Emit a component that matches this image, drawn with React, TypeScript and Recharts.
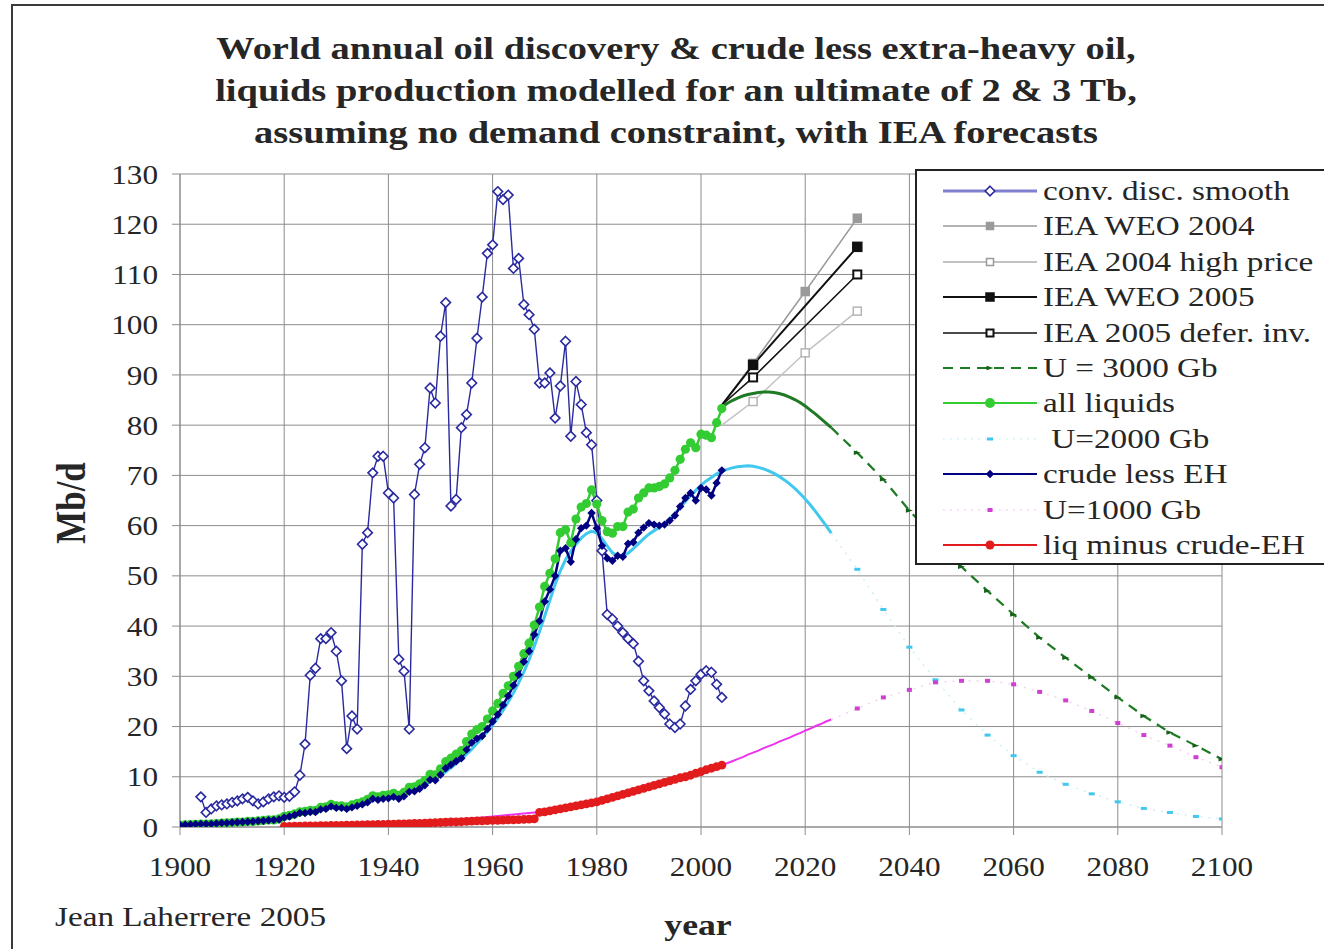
import React from 'react';
import { ComposedChart, Line, XAxis, YAxis, CartesianGrid } from 'recharts';

const W = 1324;
const H = 949;
const FONT = '"Liberation Serif", "Times New Roman", serif';
// the whole figure uses slightly widened lettering
const WIDEN = 1.23;

// ---- axis ticks ----
const xTicks = [1900, 1920, 1940, 1960, 1980, 2000, 2020, 2040, 2060, 2080, 2100];
const yTicks = [0, 10, 20, 30, 40, 50, 60, 70, 80, 90, 100, 110, 120, 130];

// ---- conventional discovery, smoothed (Mb/d), yearly from 1904 ----
const DISC_START = 1904;
const discovery = [
  6, 2.9, 3.6, 4.2, 4.4, 4.6, 4.9, 5.2, 5.6, 5.9, 5.2, 4.6, 5, 5.6, 6, 6.2, 5.9, 6.1,
  7, 10.3, 16.5, 30.2, 31.6, 37.5, 37.5, 38.7, 35, 29.1, 15.6, 22.1, 19.5,
  56.3, 58.6, 70.5, 73.8, 73.8, 66.5, 65.5, 33.4, 31, 19.5,
  66.2, 72.2, 75.5, 87.4, 84.4, 97.7, 104.4, 63.9, 65.2,
  79.5, 82.1, 88.4, 97.3, 105.5, 114.2, 115.9, 126.5, 124.9, 125.8,
  111.2, 113.2, 104, 102, 99.1, 88.4, 88.4, 90.4, 81.4, 87.8,
  96.7, 77.8, 88.7, 84.1, 78.5, 76.1, 65, 55,
  42.3, 41.4, 40, 38.7, 37.5, 36.5, 33, 29.1, 27.1, 25.1, 23.8, 22.5, 20.5, 19.8, 20.5,
  24.1, 27.4, 29.1, 30.4, 31.1, 30.8, 28.4, 25.8,
];

// ---- production, yearly from 1900 ----
const PROD_START = 1900;
const crudeLessEH = [
  0.4, 0.45, 0.5, 0.55, 0.6, 0.6, 0.6, 0.7, 0.8, 0.8,
  0.9, 0.95, 1.0, 1.05, 1.1, 1.2, 1.25, 1.35, 1.4, 1.5,
  1.9, 2.1, 2.4, 2.8, 2.8, 3.0, 3.0, 3.5, 3.6, 4.1,
  3.8, 3.8, 3.6, 3.9, 4.2, 4.5, 4.9, 5.6, 5.4, 5.6,
  5.7, 6.0, 5.6, 6.1, 7.0, 7.1, 7.6, 8.3, 9.4, 9.3,
  10.4, 11.7, 12.4, 13.1, 13.7, 15.4, 16.8, 17.6, 18.1, 19.5,
  21.0, 22.4, 24.3, 26.1, 28.2, 30.3, 32.9, 35.0, 38.3, 41.0,
  44.9, 47.3, 50.0, 55.0, 55.5, 52.8, 57.3, 59.5, 60.0, 62.5,
  59.5, 56.0, 53.5, 53.0, 54.0, 53.8, 56.4, 56.7, 58.6, 59.6,
  60.5, 60.2, 60.0, 60.2, 61.0, 62.0, 63.8, 65.5, 66.5, 65.0,
  67.5, 67.2, 66.0, 68.5, 71.0,
];
const allLiquids = [
  0.4, 0.45, 0.5, 0.55, 0.6, 0.6, 0.65, 0.7, 0.8, 0.85,
  0.9, 1.0, 1.0, 1.1, 1.1, 1.2, 1.3, 1.4, 1.4, 1.6,
  2.1, 2.3, 2.6, 3.0, 3.1, 3.3, 3.3, 3.9, 4.0, 4.5,
  4.2, 4.2, 4.0, 4.4, 4.7, 5.0, 5.5, 6.2, 6.0, 6.3,
  6.4, 6.7, 6.3, 6.9, 7.9, 8.0, 8.6, 9.3, 10.5, 10.4,
  11.6, 13.0, 13.7, 14.5, 15.2, 17.0, 18.5, 19.4, 20.0, 21.5,
  23.1, 24.6, 26.6, 28.1, 30.0, 32.0, 34.5, 36.6, 40.2, 43.8,
  47.9, 50.5, 53.4, 58.6, 59.2, 56.6, 61.3, 63.7, 64.4, 67.1,
  64.3, 61.0, 58.8, 58.5, 59.8, 59.8, 62.7, 63.3, 65.5, 66.5,
  67.5, 67.5, 67.8, 68.3, 69.5, 71.0, 73.2, 75.2, 76.5, 75.5,
  78.2, 78.0, 77.5, 80.5, 83.3,
];
const LIQ_START = 1920;
const liqMinusCrudeEH = [
  0.1, 0.1, 0.15, 0.15, 0.2, 0.2, 0.2, 0.25, 0.25, 0.3,
  0.3, 0.3, 0.35, 0.35, 0.4, 0.4, 0.45, 0.45, 0.5, 0.5,
  0.55, 0.55, 0.6, 0.6, 0.65, 0.7, 0.7, 0.75, 0.8, 0.85,
  0.9, 0.95, 1.0, 1.0, 1.05, 1.1, 1.15, 1.2, 1.2, 1.25,
  1.3, 1.3, 1.35, 1.4, 1.4, 1.45, 1.5, 1.55, 1.6, 2.9,
  3.0, 3.2, 3.4, 3.6, 3.8, 4.0, 4.2, 4.4, 4.6, 4.8,
  5.0, 5.3, 5.6, 5.9, 6.2, 6.5, 6.8, 7.1, 7.4, 7.7,
  8.0, 8.3, 8.6, 8.9, 9.2, 9.5, 9.8, 10.0, 10.3, 10.7,
  11.0, 11.4, 11.7, 12.0, 12.3,
];

// ---- models: yearly part, then every five years ----
const FIVE_YEARS = [2030, 2035, 2040, 2045, 2050, 2055, 2060, 2065, 2070, 2075, 2080, 2085, 2090, 2095, 2100];

const U3000_START = 2004;
const u3000Yearly = [
  83.6, 84.3, 84.9, 85.4, 85.8, 86.1, 86.3, 86.5, 86.6, 86.6,
  86.5, 86.3, 86.0, 85.6, 85.1, 84.5, 83.8, 83.0, 82.2, 81.3,
  80.4, 79.5,
];
const u3000Late = [74.5, 69.2, 63.0, 57.5, 51.8, 47.0, 42.3, 37.7, 33.7, 29.8, 25.8, 22.1, 18.8, 16.2, 13.5];

const U2000_START = 1940;
const u2000Yearly = [
  5.5, 5.8, 6.1, 6.5, 6.9, 7.3, 7.8, 8.4, 9.0, 9.6,
  10.3, 11.0, 11.8, 12.6, 13.5, 14.5, 15.5, 16.6, 17.8, 19.0,
  20.3, 21.7, 23.2, 24.9, 26.7, 28.7, 30.9, 33.3, 36.0, 38.9,
  42.0, 45.2, 48.3, 51.0, 53.2, 54.9, 56.3, 57.5, 58.4, 58.9,
  58.5, 57.4, 55.9, 54.6, 54.0, 54.0, 54.5, 55.4, 56.4, 57.4,
  58.3, 59.0, 59.6, 60.4, 61.3, 62.4, 63.6, 64.8, 66.0, 67.0,
  68.0, 68.9, 69.6, 70.3, 70.8, 71.2, 71.5, 71.7, 71.8, 71.9,
  71.8, 71.6, 71.3, 70.9, 70.4, 69.8, 69.1, 68.3, 67.4, 66.4,
  65.3, 64.1, 62.8, 61.4, 60.0, 58.5,
];
const u2000Late = [51.3, 43.3, 35.8, 29.3, 23.3, 18.3, 14.2, 10.9, 8.5, 6.6, 5.0, 3.7, 2.9, 2.1, 1.6];

const U1000_START = 1955;
const u1000Yearly = [
  1.6, 1.7, 1.8, 1.9, 2.0,
  2.1, 2.2, 2.3, 2.4, 2.5, 2.6, 2.7, 2.8, 2.9, 3.0,
  3.1, 3.3, 3.5, 3.7, 3.9, 4.1, 4.3, 4.5, 4.7, 4.9,
  5.1, 5.4, 5.7, 6.0, 6.3, 6.6, 6.9, 7.2, 7.5, 7.8,
  8.1, 8.4, 8.7, 9.0, 9.3, 9.6, 9.9, 10.2, 10.5, 10.8,
  11.1, 11.4, 11.7, 12.0, 12.3, 12.7, 13.1, 13.5, 13.9, 14.4,
  14.8, 15.2, 15.7, 16.1, 16.5, 17.0, 17.4, 17.8, 18.3, 18.7,
  19.2, 19.6, 20.1, 20.5, 21.0, 21.4,
];
const u1000Late = [23.6, 25.8, 27.3, 28.8, 29.1, 29.1, 28.4, 26.9, 25.2, 23.1, 20.7, 18.3, 16.2, 13.9, 11.9];

// ---- IEA forecasts ----
const IEA04_YEARS = [2004, 2010, 2020, 2030];
const ieaWeo2004 = [84, 92.3, 106.6, 121.2];
const iea2004HighPrice = [80, 84.7, 94.4, 102.7];
const IEA05_YEARS = [2004, 2010, 2030];
const ieaWeo2005 = [84, 92, 115.5];
const iea2005DeferInv = [84, 89.5, 110];

type Pt = { x: number; y: number };
const byYear = (start: number, values: number[]): Pt[] => values.map((y, i) => ({ x: start + i, y }));
const zipXY = (xs: number[], ys: number[]): Pt[] => xs.map((x, i) => ({ x, y: ys[i] }));
// five-year tail joined to the last yearly point
const tail = (start: number, yearly: number[], late: number[]): Pt[] =>
  zipXY([start + yearly.length - 1, ...FIVE_YEARS], [yearly[yearly.length - 1], ...late]);

const discData = byYear(DISC_START, discovery);
const crudeData = byYear(PROD_START, crudeLessEH);
const liquidsData = byYear(PROD_START, allLiquids);
const otherLiqData = byYear(LIQ_START, liqMinusCrudeEH);
const u3000A = byYear(U3000_START, u3000Yearly);
const u3000B = tail(U3000_START, u3000Yearly, u3000Late);
const u2000A = byYear(U2000_START, u2000Yearly);
const u2000B = tail(U2000_START, u2000Yearly, u2000Late);
const u1000A = byYear(U1000_START, u1000Yearly);
const u1000B = tail(U1000_START, u1000Yearly, u1000Late);
const weo04Data = zipXY(IEA04_YEARS, ieaWeo2004);
const high04Data = zipXY(IEA04_YEARS, iea2004HighPrice);
const weo05Data = zipXY(IEA05_YEARS, ieaWeo2005);
const defer05Data = zipXY(IEA05_YEARS, iea2005DeferInv);

// ---- colours ----
const C = {
  disc: '#2a2aa0',
  weo04: '#9a9a9a',
  high04: '#c2c2c2',
  black: '#111111',
  u3000: '#1f7a24',
  liquids: '#33cc33',
  u2000: '#40c8ee',
  crude: '#000080',
  u1000: '#ee33ee',
  red: '#e21c1c',
  grid: '#8c8c8c',
  text: '#262626',
};

// ---- marker shapes ----
type Draw = (cx: number, cy: number) => React.ReactElement;
const diamondPath = (cx: number, cy: number, r: number) =>
  `M${cx},${cy - r}L${cx + r},${cy}L${cx},${cy + r}L${cx - r},${cy}Z`;

const mOpenDiamond: Draw = (cx, cy) => (
  <path d={diamondPath(cx, cy, 4.8)} fill="#fff" stroke={C.disc} strokeWidth={1.6} />
);
const mNavyDiamond: Draw = (cx, cy) => <path d={diamondPath(cx, cy, 4.2)} fill={C.crude} />;
const mGreen: Draw = (cx, cy) => <circle cx={cx} cy={cy} r={4.6} fill={C.liquids} />;
const mRed: Draw = (cx, cy) => <circle cx={cx} cy={cy} r={4.4} fill={C.red} />;
const mSquare = (s: number, fill: string, stroke: string, sw = 1.5): Draw => (cx, cy) => (
  <rect x={cx - s / 2} y={cy - s / 2} width={s} height={s} fill={fill} stroke={stroke} strokeWidth={sw} />
);
const mCyan: Draw = (cx, cy) => <rect x={cx - 3} y={cy - 1.5} width={6} height={3} fill={C.u2000} />;
const mMagenta: Draw = (cx, cy) => <rect x={cx - 2.5} y={cy - 2} width={5} height={4} fill="#d040d0" />;
const mArrow: Draw = (cx, cy) => (
  <path d={`M${cx - 3.5},${cy - 2.2}L${cx + 3.5},${cy}L${cx - 3.5},${cy + 2.2}Z`} fill="#17601a" />
);

const dots = (id: string, draw: Draw, skipFirst = false) => (p: any) => {
  const { cx, cy, index } = p;
  if (cx == null || cy == null || (skipFirst && index === 0)) return <g key={`${id}-${index}`} />;
  return <g key={`${id}-${index}`}>{draw(cx, cy)}</g>;
};

// ---- axis tick labels ----
const XTick = (p: any) => (
  <text
    transform={`translate(${p.x},${p.y}) scale(${WIDEN * 0.94},1)`}
    textAnchor="middle"
    dy="0.71em"
    fontSize={27}
    fontFamily={FONT}
    fill={C.text}
  >
    {p.payload.value}
  </text>
);
const YTick = (p: any) => (
  <text
    transform={`translate(${p.x},${p.y}) scale(${WIDEN * 0.94},1)`}
    textAnchor="end"
    dy="0.355em"
    fontSize={27}
    fontFamily={FONT}
    fill={C.text}
  >
    {p.payload.value}
  </text>
);

// ---- legend ----
type LegendItem = {
  label: string;
  stroke: string;
  width: number;
  dash?: string;
  mark?: Draw;
};
const legendItems: LegendItem[] = [
  { label: 'conv. disc. smooth', stroke: '#8080d0', width: 3, mark: mOpenDiamond },
  { label: 'IEA WEO 2004', stroke: C.weo04, width: 1.5, mark: mSquare(7, C.weo04, C.weo04) },
  { label: 'IEA 2004 high price', stroke: C.high04, width: 2, mark: mSquare(7, '#fff', '#9a9a9a') },
  { label: 'IEA WEO 2005', stroke: C.black, width: 2, mark: mSquare(8, C.black, C.black) },
  { label: 'IEA 2005 defer. inv.', stroke: C.black, width: 1.5, mark: mSquare(7, '#fff', C.black, 2) },
  { label: 'U = 3000 Gb', stroke: C.u3000, width: 2, dash: '10 7', mark: mArrow },
  { label: 'all liquids', stroke: C.liquids, width: 2, mark: (cx, cy) => <circle cx={cx} cy={cy} r={5} fill={C.liquids} /> },
  { label: ' U=2000 Gb', stroke: '#d8f2fa', width: 1.5, dash: '2 5', mark: mCyan },
  { label: 'crude less EH', stroke: C.crude, width: 2, mark: mNavyDiamond },
  { label: 'U=1000 Gb', stroke: '#f6d8f6', width: 1.5, dash: '2 5', mark: mMagenta },
  { label: 'liq minus crude-EH', stroke: C.red, width: 2, mark: (cx, cy) => <circle cx={cx} cy={cy} r={4.5} fill={C.red} /> },
];

const LegendBox = () => (
  <div
    style={{
      position: 'absolute',
      left: 915,
      top: 169,
      width: 440,
      height: 396,
      border: '2px solid #222',
      background: '#fff',
      boxSizing: 'border-box',
      paddingTop: 2,
    }}
  >
    {legendItems.map((it) => (
      <div key={it.label} style={{ height: 35.4, position: 'relative' }}>
        <svg width={100} height={36} style={{ position: 'absolute', left: 24, top: 0 }}>
          <line x1={2} y1={18} x2={96} y2={18} stroke={it.stroke} strokeWidth={it.width} strokeDasharray={it.dash} />
          {it.mark ? it.mark(49, 18) : null}
        </svg>
        <div
          style={{
            position: 'absolute',
            left: 126,
            top: 0,
            lineHeight: '36px',
            fontSize: 27,
            fontFamily: FONT,
            color: C.text,
            whiteSpace: 'pre',
            transform: `scaleX(${WIDEN})`,
            transformOrigin: 'left center',
          }}
        >
          {it.label}
        </div>
      </div>
    ))}
  </div>
);

const titleLines = [
  'World annual oil discovery & crude less extra-heavy oil,',
  'liquids production modelled for an ultimate of 2 & 3 Tb,',
  'assuming no demand constraint, with IEA forecasts',
];

export default function App() {
  return (
    <div
      style={{
        position: 'absolute',
        left: 0,
        top: 0,
        width: W,
        height: H,
        overflow: 'hidden',
        background: '#fff',
        fontFamily: FONT,
      }}
    >
      <div
        style={{
          position: 'absolute',
          left: 11,
          top: 4,
          width: W + 60,
          height: H + 60,
          border: '2px solid #3a3a3a',
          boxSizing: 'border-box',
        }}
      />
      <div style={{ position: 'absolute', left: 0, top: 0 }}>
        <ComposedChart width={W} height={H} margin={{ top: 174, right: 102, bottom: 0, left: 0 }}>
          <CartesianGrid stroke={C.grid} strokeWidth={1} />
          <XAxis
            type="number"
            dataKey="x"
            domain={[1900, 2100]}
            ticks={xTicks}
            allowDataOverflow
            height={122}
            tickSize={8}
            tickMargin={22}
            stroke={C.grid}
            tick={<XTick />}
          />
          <YAxis
            type="number"
            dataKey="y"
            domain={[0, 130]}
            ticks={yTicks}
            allowDataOverflow
            width={180}
            tickSize={8}
            tickMargin={14}
            stroke={C.grid}
            tick={<YTick />}
          />

          <Line data={discData} dataKey="y" stroke={C.disc} strokeWidth={1.4} dot={dots('disc', mOpenDiamond)} activeDot={false} isAnimationActive={false} />

          <Line data={weo04Data} dataKey="y" stroke={C.weo04} strokeWidth={1.5} dot={dots('w04', mSquare(8, C.weo04, C.weo04), true)} activeDot={false} isAnimationActive={false} />
          <Line data={high04Data} dataKey="y" stroke={C.high04} strokeWidth={1.5} dot={dots('h04', mSquare(8, '#fff', '#b5b5b5'), true)} activeDot={false} isAnimationActive={false} />
          <Line data={weo05Data} dataKey="y" stroke={C.black} strokeWidth={2} dot={dots('w05', mSquare(9, C.black, C.black), true)} activeDot={false} isAnimationActive={false} />
          <Line data={defer05Data} dataKey="y" stroke={C.black} strokeWidth={1.5} dot={dots('d05', mSquare(8, '#fff', C.black, 2), true)} activeDot={false} isAnimationActive={false} />

          <Line data={u3000A} dataKey="y" stroke={C.u3000} strokeWidth={3} dot={false} activeDot={false} isAnimationActive={false} />
          <Line data={u3000B} dataKey="y" stroke={C.u3000} strokeWidth={2.2} strokeDasharray="10 7" dot={dots('u3', mArrow, true)} activeDot={false} isAnimationActive={false} />

          <Line data={liquidsData} dataKey="y" stroke={C.liquids} strokeWidth={2.5} dot={dots('liq', mGreen)} activeDot={false} isAnimationActive={false} />

          <Line data={u2000A} dataKey="y" stroke={C.u2000} strokeWidth={3} dot={false} activeDot={false} isAnimationActive={false} />
          <Line data={u2000B} dataKey="y" stroke="#cdeff9" strokeWidth={1.5} strokeDasharray="2 6" dot={dots('u2', mCyan, true)} activeDot={false} isAnimationActive={false} />

          <Line data={crudeData} dataKey="y" stroke={C.crude} strokeWidth={2.5} dot={dots('crude', mNavyDiamond)} activeDot={false} isAnimationActive={false} />

          <Line data={u1000A} dataKey="y" stroke={C.u1000} strokeWidth={2} dot={false} activeDot={false} isAnimationActive={false} />
          <Line data={u1000B} dataKey="y" stroke="#f4d2f4" strokeWidth={1.5} strokeDasharray="2 6" dot={dots('u1', mMagenta, true)} activeDot={false} isAnimationActive={false} />

          <Line data={otherLiqData} dataKey="y" stroke={C.red} strokeWidth={2.5} dot={dots('red', mRed)} activeDot={false} isAnimationActive={false} />
        </ComposedChart>
      </div>

      <LegendBox />

      <div
        style={{
          position: 'absolute',
          left: 176,
          top: 28,
          width: 1000,
          textAlign: 'center',
          fontWeight: 'bold',
          fontSize: 31,
          lineHeight: '42px',
          color: C.text,
          transform: `scaleX(${WIDEN + 0.01})`,
          transformOrigin: 'center top',
        }}
      >
        {titleLines.map((t) => (
          <div key={t} style={{ whiteSpace: 'nowrap' }}>{t}</div>
        ))}
      </div>

      <div
        style={{
          position: 'absolute',
          left: 71,
          top: 503,
          transform: `translate(-50%, -50%) scaleX(${WIDEN}) rotate(-90deg)`,
          fontWeight: 'bold',
          fontSize: 35,
          color: C.text,
          whiteSpace: 'nowrap',
        }}
      >
        Mb/d
      </div>
      <div
        style={{
          position: 'absolute',
          left: 698,
          top: 925,
          transform: `translate(-50%, -50%) scaleX(${WIDEN})`,
          fontWeight: 'bold',
          fontSize: 29,
          color: C.text,
          whiteSpace: 'nowrap',
        }}
      >
        year
      </div>
      <div
        style={{
          position: 'absolute',
          left: 55,
          top: 917,
          transform: `translate(0, -50%) scaleX(${WIDEN})`,
          transformOrigin: 'left center',
          fontSize: 27,
          color: C.text,
          whiteSpace: 'nowrap',
        }}
      >
        Jean Laherrere 2005
      </div>
    </div>
  );
}
